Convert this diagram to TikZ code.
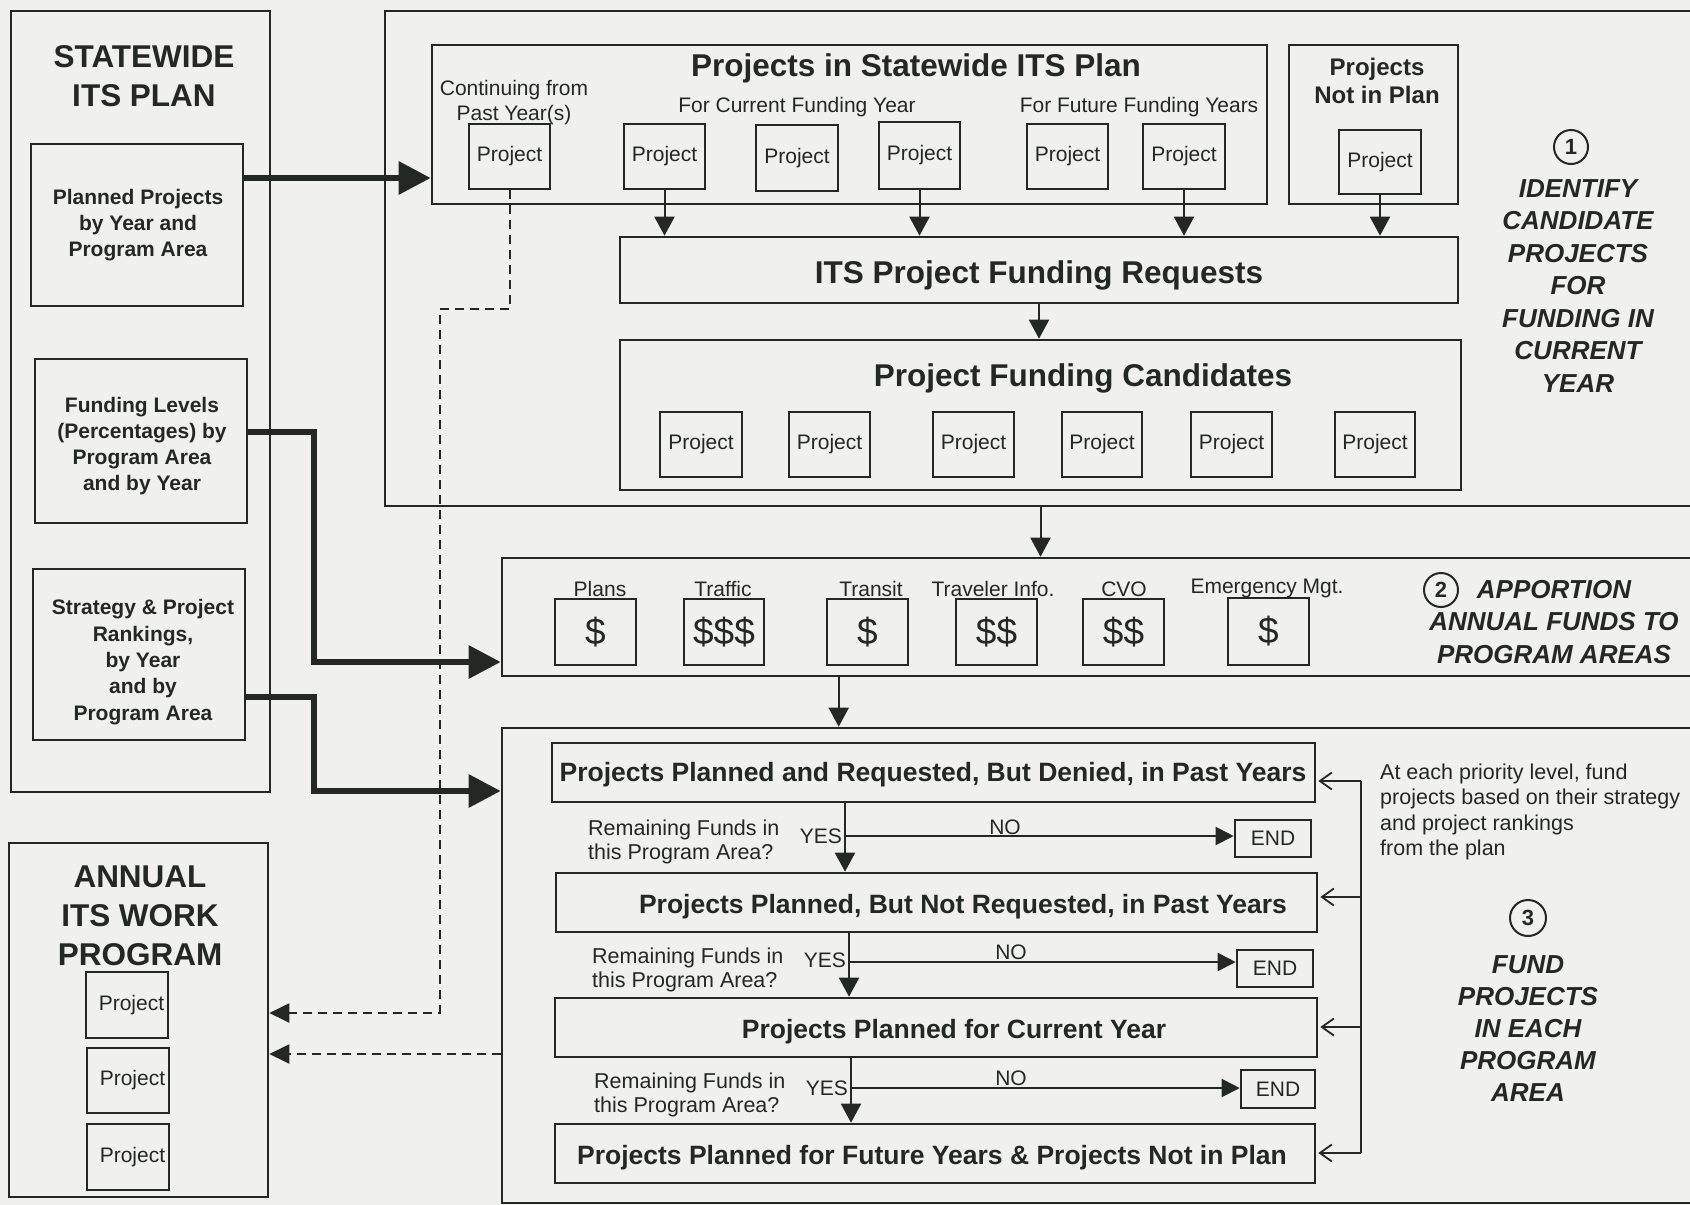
\documentclass[tikz,border=0pt]{standalone}
\usepackage{fontspec}
\setmainfont{Liberation Sans}
\usetikzlibrary{arrows.meta}
\definecolor{ink}{RGB}{36,40,36}
\definecolor{paper}{RGB}{240,241,237}

% box with corners (x1,y1)-(x2,y2): [options]{name}{x1}{y1}{x2}{y2}{text}
\newcommand\mkbox[7][]{\node[box,#1,minimum width={#5pt-#3pt},minimum height={#6pt-#4pt}] (#2) at ({(#3+#5)/2},{(#4+#6)/2}) {#7};}
\newcommand\fs[2]{\fontsize{#1}{#2}\selectfont}

% multi-line texts are placed by the baseline of their last line
\tikzset{
  box/.style={draw=ink, line width=2.6pt, inner sep=0pt},
  projbox/.style={font=\fs{21}{25}},
  txt/.style={text=ink, inner sep=0pt, anchor=base, align=center},
  head/.style={txt, font=\fs{31.5}{39}\bfseries},
  sub/.style={txt, font=\fs{21}{26}\bfseries},
  lbl/.style={txt, font=\fs{21}{25}},
  rank/.style={txt, font=\fs{26.5}{30}\bfseries},
  step label/.style={txt, font=\fs{26}{32.5}\bfseries\itshape},
  num/.style={circle, draw=ink, line width=2pt, minimum size=34pt, inner sep=0pt, font=\fs{22}{22}\bfseries},
  thickarrow/.style={draw=ink, line width=6pt, -{Triangle[length=32pt,width=32pt]}},
  flowarrow/.style={draw=ink, line width=2pt, -{Triangle[length=19pt,width=20pt]}},
  noarrow/.style={draw=ink, line width=2pt, -{Triangle[length=18pt,width=18pt]}},
  backarrow/.style={draw=ink, line width=1.8pt, shorten >=2pt, -{Straight Barb[length=12pt,width=17pt]}},
  dasharrow/.style={draw=ink, line width=2pt, dash pattern=on 9pt off 6pt, -{Triangle[length=20pt,width=19pt]}},
}

\begin{document}
\begin{tikzpicture}[x=1pt,y=-1pt,color=ink,line join=miter]
\fill[paper] (0,0) rectangle (1690,1205);
\useasboundingbox (0,0) rectangle (1690,1205);
\clip (0,0) rectangle (1690,1205);

% ---------------- statewide plan (left column)
\mkbox{planL}{11}{11}{270}{792}{}
\node[head] (planT) at (144,106) {STATEWIDE\\ITS PLAN};
\mkbox{plannedB}{31}{144}{243}{306}{}
\node[sub] (plannedT) at (138,256) {Planned Projects\\by Year and\\Program Area};
\mkbox{fundB}{35}{359}{247}{523}{}
\node[sub] (fundT) at (142,490) {Funding Levels\\(Percentages) by\\Program Area\\and by Year};
\mkbox{stratB}{33}{569}{245}{740}{}
\node[sub, font=\fs{21}{26.3}\bfseries] (stratT) at (143,720) {Strategy \& Project\\Rankings,\\by Year\\and by\\Program Area};

% ---------------- annual work program
\mkbox{annualB}{9}{843}{268}{1197}{}
\node[head] (annualT) at (140,965) {ANNUAL\\ITS WORK\\PROGRAM};
\mkbox[projbox]{aP1}{86}{972}{168}{1038}{\hspace*{9pt}Project}
\mkbox[projbox]{aP2}{87}{1048}{169}{1113}{\hspace*{9pt}Project}
\mkbox[projbox]{aP3}{87}{1124}{169}{1190}{\hspace*{9pt}Project}

% ---------------- step 1: candidate projects
\mkbox{sec1}{385}{11}{1712}{506}{}
\mkbox{inplanB}{432}{45}{1267}{204}{}
\node[head, font=\fs{31.5}{36}\bfseries] (inplanT) at (916,76) {Projects in Statewide ITS Plan};
\node[lbl] (contT) at (514,120) {Continuing from\\Past Year(s)};
\node[lbl] (curT) at (797,112) {For Current Funding Year};
\node[lbl] (futT) at (1139,112) {For Future Funding Years};
\mkbox[projbox]{contP}{469}{124}{550}{189}{Project}
\mkbox[projbox]{pP2}{624}{124}{705}{189}{Project}
\mkbox[projbox]{pP3}{756}{125}{838}{191}{Project}
\mkbox[projbox]{pP4}{879}{122}{960}{189}{\raisebox{3pt}{Project}}
\mkbox[projbox]{pP5}{1027}{124}{1108}{189}{Project}
\mkbox[projbox]{pP6}{1143}{124}{1225}{189}{Project}

\mkbox{notinB}{1289}{45}{1458}{204}{}
\node[txt, font=\fs{24}{28}\bfseries] (notinT) at (1377,103) {Projects\\Not in Plan};
\mkbox[projbox]{npP}{1339}{130}{1421}{194}{Project}

\mkbox{reqB}{620}{237}{1458}{303}{}
\node[head, font=\fs{31.5}{36}\bfseries] (reqT) at (1039,283) {ITS Project Funding Requests};

\mkbox{candB}{620}{340}{1461}{490}{}
\node[head, font=\fs{31.5}{36}\bfseries] (candT) at (1083,386) {Project Funding Candidates};
\mkbox[projbox]{cP1}{660}{412}{742}{477}{Project}
\mkbox[projbox]{cP2}{789}{412}{870}{477}{\raisebox{3pt}{Project}}
\mkbox[projbox]{cP3}{933}{412}{1014}{477}{Project}
\mkbox[projbox]{cP4}{1062}{412}{1142}{477}{Project}
\mkbox[projbox]{cP5}{1191}{412}{1272}{477}{Project}
\mkbox[projbox]{cP6}{1335}{412}{1415}{477}{Project}

\foreach \p in {pP2,pP4,pP6,npP}
  \draw[flowarrow] (\p.south) -- (\p.south |- reqB.north);
\draw[flowarrow] (reqB.south) -- (reqB.south |- candB.north);

\node[num] (n1) at (1571,147) {1};
\node[step label] (s1T) at (1578,392) {IDENTIFY\\CANDIDATE\\PROJECTS\\FOR\\FUNDING IN\\CURRENT\\YEAR};

% ---------------- step 2: apportion funds
\mkbox{sec2}{502}{558}{1712}{676}{}
\draw[flowarrow] (candB.south |- sec1.south) -- (candB.south |- sec2.north);
\mkbox[font=\fs{37}{40}]{dPlans}{555}{599}{636}{665}{\$}
\mkbox[font=\fs{37}{40}]{dTraffic}{684}{599}{764}{665}{\$\$\$}
\mkbox[font=\fs{37}{40}]{dTransit}{827}{599}{908}{665}{\$}
\mkbox[font=\fs{37}{40}]{dTraveler}{956}{599}{1037}{665}{\$\$}
\mkbox[font=\fs{37}{40}]{dCVO}{1083}{599}{1164}{665}{\$\$}
\mkbox[font=\fs{37}{40}]{dEmerg}{1228}{598}{1309}{665}{\$}
\node[lbl] (lPlans) at (600,596) {Plans};
\node[lbl] (lTraffic) at (723,596) {Traffic};
\node[lbl] (lTransit) at (871,596) {Transit};
\node[lbl] (lTraveler) at (993,596) {Traveler Info.};
\node[lbl] (lCVO) at (1124,596) {CVO};
\node[lbl] (lEmerg) at (1267,593) {Emergency Mgt.};
\node[num] (n2) at (1441,590) {2};
\node[step label, font=\fs{26}{32.5}\bfseries\itshape] (s2T) at (1554,663) {APPORTION\\ANNUAL FUNDS TO\\PROGRAM AREAS};

% ---------------- step 3: fund projects by priority
\mkbox{sec3}{502}{728}{1712}{1203}{}
\draw[flowarrow] ([xshift=338pt]sec2.south west) -- ([xshift=338pt]sec2.south west |- sec3.north);

\mkbox{rA}{552}{743}{1315}{802}{}
\node[rank] (rAT) at (933,781) {Projects Planned and Requested, But Denied, in Past Years};
\mkbox{rB}{556}{873}{1317}{932}{}
\node[rank] (rBT) at (963,913) {Projects Planned, But Not Requested, in Past Years};
\mkbox{rC}{555}{998}{1317}{1057}{}
\node[rank] (rCT) at (954,1038) {Projects Planned for Current Year};
\mkbox{rD}{555}{1124}{1315}{1183}{}
\node[rank] (rDT) at (932,1164) {Projects Planned for Future Years \& Projects Not in Plan};

\mkbox[font=\fs{21}{25}]{e1}{1235}{820}{1311}{857}{END}
\mkbox[font=\fs{21}{25}]{e2}{1237}{950}{1313}{987}{END}
\mkbox[font=\fs{21}{25}]{e3}{1241}{1070}{1315}{1108}{END}

\coordinate (d1) at (845,836);
\coordinate (d2) at (849,962);
\coordinate (d3) at (851,1088);
\draw[flowarrow] (rA.south -| d1) -- (rB.north -| d1);
\draw[flowarrow] (rB.south -| d2) -- (rC.north -| d2);
\draw[flowarrow] (rC.south -| d3) -- (rD.north -| d3);
\draw[noarrow] (d1) -- (d1 -| e1.west);
\draw[noarrow] (d2) -- (d2 -| e2.west);
\draw[noarrow] (d3) -- (d3 -| e3.west);

\node[lbl, anchor=base west, align=left, font=\fs{21.5}{24.5}] (q1) at (588,859.5) {Remaining Funds in\\this Program Area?};
\node[lbl, anchor=base west, align=left, font=\fs{21.5}{24.5}] (q2) at (592,987.5) {Remaining Funds in\\this Program Area?};
\node[lbl, anchor=base west, align=left, font=\fs{21.5}{24.5}] (q3) at (594,1112.5) {Remaining Funds in\\this Program Area?};
\node[lbl, anchor=base east] (y1) at (842,843) {YES};
\node[lbl, anchor=base east] (y2) at (846,967) {YES};
\node[lbl, anchor=base east] (y3) at (848,1095) {YES};
\node[lbl] (no1) at (1005,834) {NO};
\node[lbl] (no2) at (1011,959) {NO};
\node[lbl] (no3) at (1011,1085) {NO};

% return path to each priority level
\coordinate (fA) at (1361,781);
\coordinate (fB) at (1361,897);
\coordinate (fC) at (1361,1027);
\coordinate (fD) at (1361,1153);
\draw[draw=ink, line width=1.8pt] (fA) -- (fD);
\draw[backarrow] (fA) -- (fA -| rA.east);
\draw[backarrow] (fB) -- (fB -| rB.east);
\draw[backarrow] (fC) -- (fC -| rC.east);
\draw[backarrow] (fD) -- (fD -| rD.east);

\node[lbl, anchor=base west, align=left, font=\fs{21.5}{25.5}] (note) at (1380,855.5) {At each priority level, fund\\projects based on their strategy\\and project rankings\\from the plan};
\node[num, minimum size=36pt] (n3) at (1528,918) {3};
\node[step label, font=\fs{26}{32}\bfseries\itshape] (s3T) at (1528,1101) {FUND\\PROJECTS\\IN EACH\\PROGRAM\\AREA};

% ---------------- inputs from the plan
\coordinate (ppOut) at ([yshift=47pt]plannedB.east);
\draw[thickarrow] (ppOut) -- (ppOut -| inplanB.west);
\coordinate (fdOut) at ([yshift=9pt]fundB.east);
\coordinate (s2In) at ([yshift=-45pt]sec2.west);
\draw[thickarrow] (fdOut) -- ++(66,0) |- (s2In);
\coordinate (stOut) at ([yshift=-42.5pt]stratB.east);
\coordinate (s3In) at ([yshift=174.5pt]sec3.west);
\draw[thickarrow] (stOut) -- ++(68,0) |- (s3In);

% ---------------- funded projects into the work program
\coordinate (an1) at ([yshift=7pt]annualB.east);
\coordinate (an2) at ([yshift=-34pt]annualB.east);
\draw[dasharrow] (contP.south) -- ++(0,119) -- ++(-70,0) |- (an1);
\draw[dasharrow] (sec3.west |- an2) -- (an2);
\end{tikzpicture}
\end{document}
